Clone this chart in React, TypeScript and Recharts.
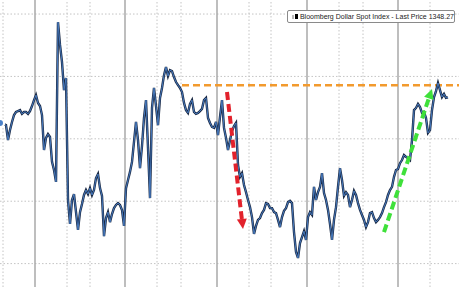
import { LineChart, Line, XAxis, YAxis, ReferenceLine } from 'recharts';

// Bloomberg Dollar Spot Index, one reading every ~2 sessions
const lastPrice = [
  1340.1, 1339.7, 1339.7, 1339.4, 1334.6, 1337.8, 1340.4, 1342.6, 1343.6, 1343.9,
  1344.2, 1343.0, 1343.6, 1343.6, 1343.0, 1343.9, 1345.5, 1347.4, 1349.0, 1346.5,
  1345.5, 1342.6, 1331.4, 1335.3, 1336.5, 1335.6, 1327.6, 1325.0, 1321.2, 1372.4,
  1365.1, 1359.6, 1350.6, 1354.5, 1315.4, 1307.7, 1315.4, 1317.3, 1311.5, 1305.8,
  1311.5, 1314.1, 1317.0, 1318.6, 1317.3, 1319.2, 1317.0, 1318.6, 1322.4, 1323.7,
  1319.2, 1316.7, 1303.8, 1309.6, 1311.5, 1308.3, 1310.9, 1312.8, 1313.8, 1314.4,
  1313.8, 1312.2, 1307.1, 1319.2, 1321.8, 1324.4, 1327.6, 1334.0, 1340.4, 1334.6,
  1325.6, 1332.7, 1341.7, 1347.4, 1332.1, 1316.0, 1344.9, 1351.3, 1345.5, 1339.4,
  1348.1, 1351.3, 1355.4, 1358.0, 1355.1, 1357.0, 1356.7, 1354.8, 1353.2, 1352.2,
  1351.3, 1350.0, 1346.5, 1344.2, 1343.3, 1346.2, 1347.4, 1343.6, 1343.0, 1343.3,
  1343.9, 1344.6, 1347.4, 1348.1, 1341.7, 1340.1, 1338.8, 1338.5, 1340.4, 1336.2,
  1342.0, 1347.4, 1338.5, 1335.3, 1331.4, 1334.6, 1337.5, 1339.1, 1340.1, 1326.6,
  1322.8, 1324.0, 1320.2, 1317.9, 1315.4, 1313.1, 1309.9, 1304.5, 1307.1, 1309.0,
  1309.6, 1311.2, 1312.2, 1314.4, 1314.1, 1312.8, 1312.8, 1311.5, 1311.2, 1309.0,
  1306.7, 1309.9, 1311.9, 1312.8, 1314.7, 1315.1, 1314.4, 1305.1, 1298.7, 1296.8,
  1301.6, 1303.5, 1305.4, 1302.6, 1309.9, 1311.5, 1310.6, 1319.6, 1315.4, 1317.9,
  1319.6, 1324.0, 1317.6, 1315.4, 1312.2, 1307.7, 1302.6, 1309.0, 1313.1, 1319.6,
  1325.6, 1321.8, 1316.7, 1317.9, 1317.0, 1313.1, 1315.4, 1318.3, 1317.0, 1314.4,
  1312.2, 1310.6, 1309.0, 1306.7, 1308.3, 1311.2, 1311.5, 1309.6, 1308.3, 1309.0,
  1309.9, 1311.2, 1313.1, 1314.7, 1317.0, 1318.6, 1319.6, 1322.8, 1325.0, 1325.3,
  1327.2, 1328.2, 1329.8, 1329.2, 1328.8, 1328.2, 1334.6, 1344.2, 1344.9, 1346.2,
  1345.2, 1343.3, 1343.6, 1341.7, 1336.9, 1337.8, 1344.2, 1348.4, 1350.3, 1352.9,
  1350.6, 1348.4, 1349.4, 1348.1, 1348.27,
];

const data = lastPrice.map((v, i) => ({ i, v }));

// grid: horizontal levels, year boundaries (solid) and quarter marks (dotted), in reading index
const gridLevels = [1375, 1355, 1335, 1315, 1295];
const yearLines = [17.5, 62.5, 108.5, 153.5, 199];
const quarterLines = [1.5, 33.5, 45, 78.5, 90.5, 124.5, 135.5, 169.5, 181.5, 215];

// annotations
const resistance = [{ i: 91, v: 1352.2 }, { i: 229.5, v: 1352.2 }];
const downArrow = [{ i: 113.5, v: 1350.0 }, { i: 121.5, v: 1306.1 }];
const upArrow = [{ i: 192, v: 1305.1 }, { i: 216, v: 1351.0 }];

function arrowShape(color: string) {
  return (props: any) => {
    const { x1, y1, x2, y2 } = props;
    const dx = x2 - x1;
    const dy = y2 - y1;
    const len = Math.hypot(dx, dy);
    const ux = dx / len;
    const uy = dy / len;
    const head = 10;
    const half = 5;
    const bx = x2 - ux * head;
    const by = y2 - uy * head;
    return (
      <g>
        <line x1={x1} y1={y1} x2={bx} y2={by} stroke={color} strokeWidth={4} strokeDasharray="8 4" />
        <polygon
          points={`${x2},${y2} ${bx - uy * half},${by + ux * half} ${bx + uy * half},${by - ux * half}`}
          fill={color}
        />
      </g>
    );
  };
}

export default function App() {
  return (
    <div style={{ position: 'fixed', left: 0, top: 0, width: 459, height: 287, background: '#fff' }}>
      <LineChart width={459} height={287} data={data} margin={{ top: 0, right: 0, bottom: 0, left: 0 }}>
        <XAxis dataKey="i" type="number" domain={[0, 229.5]} hide allowDataOverflow />
        <YAxis type="number" domain={[1287.5, 1379.5]} hide allowDataOverflow />
        {gridLevels.map((y) => (
          <ReferenceLine key={`h${y}`} y={y} stroke="#c4c4c4" strokeDasharray="1.5 2" strokeWidth={1} />
        ))}
        {quarterLines.map((x) => (
          <ReferenceLine key={`q${x}`} x={x} stroke="#c4c4c4" strokeDasharray="1.5 2" strokeWidth={1} />
        ))}
        {yearLines.map((x) => (
          <ReferenceLine key={`y${x}`} x={x} stroke="#a8a8a8" strokeWidth={1.5} />
        ))}
        <ReferenceLine
          segment={resistance.map((p) => ({ x: p.i, y: p.v }))}
          stroke="#f29a2e"
          strokeWidth={2.5}
          strokeDasharray="7 4"
        />
        <Line dataKey="v" type="linear" stroke="#1b2a45" strokeWidth={2.4} dot={false} isAnimationActive={false} />
        <Line dataKey="v" type="linear" stroke="#4a80c8" strokeWidth={0.9} dot={false} isAnimationActive={false} />
        <ReferenceLine segment={downArrow.map((p) => ({ x: p.i, y: p.v }))} shape={arrowShape('#e2222c')} />
        <ReferenceLine segment={upArrow.map((p) => ({ x: p.i, y: p.v }))} shape={arrowShape('#3fe03a')} />
      </LineChart>
      <div
        style={{
          position: 'absolute',
          left: 287,
          top: 10,
          width: 168,
          height: 13,
          boxSizing: 'border-box',
          border: '1px solid #8a8a8a',
          borderRadius: 2,
          background: '#fff',
          display: 'flex',
          alignItems: 'center',
          fontFamily: '"Liberation Sans", Arial, sans-serif',
          fontSize: 7,
          color: '#222',
          whiteSpace: 'nowrap',
        }}
      >
        <span style={{ width: 3, height: 4, background: '#bbb', marginLeft: 4 }} />
        <span style={{ width: 5, height: 5, background: '#000', marginLeft: 1, marginRight: 2 }} />
        <span>Bloomberg Dollar Spot Index - Last Price 1348.27</span>
      </div>
    </div>
  );
}
